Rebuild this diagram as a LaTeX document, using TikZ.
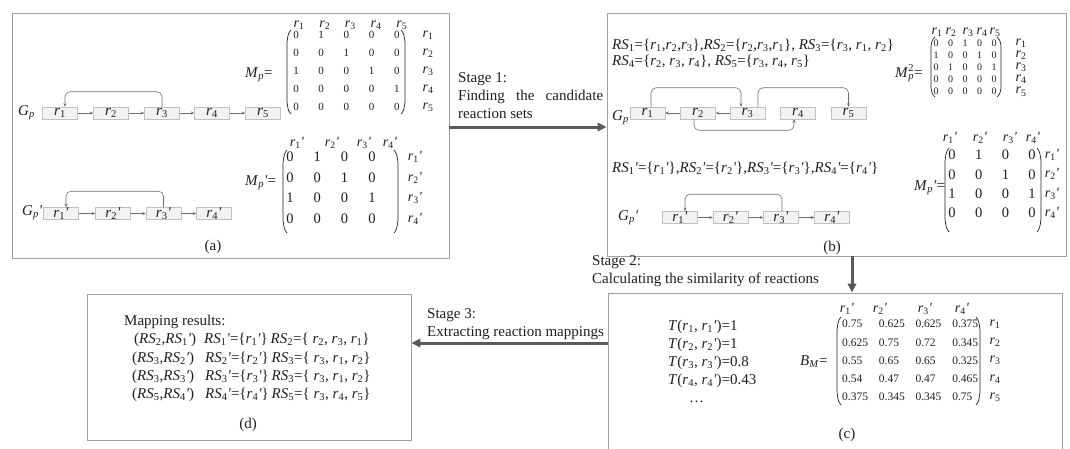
\documentclass[tikz,border=0pt]{standalone}
\usepackage{fontspec}
\setmainfont{Liberation Serif}
\usetikzlibrary{arrows.meta}
\definecolor{panelcol}{HTML}{A0A0A0}
\definecolor{boxfill}{HTML}{F2F2F2}
\definecolor{boxline}{HTML}{C0C0C0}
\definecolor{edgecol}{HTML}{6E6E6E}
\definecolor{stagecol}{HTML}{595959}
\definecolor{inkcol}{HTML}{1E1E1E}
\newcommand{\myq}{\textit{\textquotesingle}}
\newcommand{\myr}[1]{\textit{r}\textsubscript{#1}}
\newcommand{\myrp}[1]{\textit{r}\textsubscript{#1}\myq}
\newcommand{\myRS}[1]{\textit{RS}\textsubscript{#1}}
\newcommand{\myRSp}[1]{\textit{RS}\textsubscript{#1}\myq}
\newcommand{\mylpar}[4]{\draw[paren] (#1+4,#2) .. controls (#1+1.2,#2+#4*0.3) .. (#1,#2+#4) -- (#1,#3-#4) .. controls (#1+1.2,#3-#4*0.3) .. (#1+4,#3);}
\newcommand{\myrpar}[4]{\draw[paren] (#1-4,#2) .. controls (#1-1.2,#2+#4*0.3) .. (#1,#2+#4) -- (#1,#3-#4) .. controls (#1-1.2,#3-#4*0.3) .. (#1-4,#3);}
\tikzset{
  panel/.style={draw=panelcol, line width=0.9pt, inner sep=0pt},
  rbox/.style={draw=boxline, fill=boxfill, line width=0.5pt, minimum width=35pt, minimum height=12pt, inner sep=0pt, font=\fontsize{15}{18}\selectfont, text=inkcol},
  conn/.style={draw=edgecol, line width=0.6pt, -{Stealth[length=3.5pt,width=3pt]}},
  loopconn/.style={conn, rounded corners=5pt},
  stagearrow/.style={draw=stagecol, line width=3pt, -{Triangle[length=9pt,width=8.5pt]}},
  txt/.style={inner sep=0pt, anchor=base west, font=\fontsize{15}{18}\selectfont, text=inkcol},
  lbl/.style={inner sep=0pt, font=\fontsize{15}{18}\selectfont, text=inkcol},
  hdr/.style={inner sep=0pt, font=\fontsize{14}{16}\selectfont, text=inkcol},
  ent/.style={inner sep=0pt, font=\fontsize{11}{13}\selectfont, text=inkcol},
  entmid/.style={inner sep=0pt, font=\fontsize{11.5}{13}\selectfont, text=inkcol},
  entbig/.style={inner sep=0pt, font=\fontsize{14.5}{17}\selectfont, text=inkcol},
  enttiny/.style={inner sep=0pt, font=\fontsize{10}{12}\selectfont, text=inkcol},
  paren/.style={draw=inkcol, line width=0.7pt},
}
\begin{document}
\begin{tikzpicture}[x=1pt,y=-1pt]
\useasboundingbox (0,0) rectangle (1070,448);
\clip (0,0) rectangle (1070,448);

% panels
\node[panel, minimum width=437pt, minimum height=245pt] (pa) at (230.5,135.5) {};
\node[panel, minimum width=459pt, minimum height=243pt] (pb) at (836.5,134.5) {};
\node[panel, minimum width=454pt, minimum height=180pt] (pc) at (835,383) {};
\node[panel, minimum width=324pt, minimum height=146pt] (pd) at (249,367) {};

% ---------- panel (a) ----------
\node[txt] (gpa) at (18,115) {\textit{G}\textsubscript{\textit{p}}};
\foreach \x [count=\i] in {60,111,162,212,263} \node[rbox] (a\i) at (\x,113) {\myr{\i}};
\foreach \i/\j in {1/2,2/3,3/4,4/5} \draw[conn] (a\i) -- (a\j);
\draw[loopconn] (a3.north) -- ++(0,-15) -| ([xshift=5pt]a1.north);

\node[txt] (mpalbl) at (245,77) {\textit{M}\textsubscript{\textit{p}}=};
\foreach \rowv [count=\i] in {{0,1,0,0,0},{0,0,1,0,0},{1,0,0,1,0},{0,0,0,0,1},{0,0,0,0,0}} {
  \foreach \v [count=\j] in \rowv {
    \node[ent] (mpa-\i-\j) at ({296+(\j-1)*25.2},{35+(\i-1)*18}) {\v};
  }
  \node[hdr] (mpa-l\i) at (428,{35+(\i-1)*18}) {\myr{\i}};
}
\foreach \j in {1,...,5} \node[hdr] (mpa-h\j) at ({299+(\j-1)*25.7},25) {\myr{\j}};
\mylpar{287}{30}{114}{12}
\myrpar{405}{30}{114}{12}

\node[txt] (gppa) at (22,215) {\textit{G}\textsubscript{\textit{p}}\myq};
\foreach \x [count=\i] in {61,113,163.5,214} \node[rbox] (ap\i) at (\x,213.5) {\myrp{\i}};
\foreach \i/\j in {1/2,2/3,3/4} \draw[conn] (ap\i) -- (ap\j);
\draw[loopconn] (ap3.north) -- ++(0,-16) -| ([xshift=5pt]ap1.north);

\node[txt] (mppalbl) at (245,185) {\textit{M}\textsubscript{\textit{p}}\myq=};
\foreach \rowv [count=\i] in {{0,1,0,0},{0,0,1,0},{1,0,0,1},{0,0,0,0}} {
  \foreach \v [count=\j] in \rowv {
    \node[entbig] (mppa-\i-\j) at ({290+(\j-1)*27.3},{157+(\i-1)*20.5}) {\v};
  }
  \node[hdr] (mppa-l\i) at (415,{157+(\i-1)*20.5}) {\myrp{\i}};
}
\foreach \x [count=\j] in {297,332,364,390} \node[hdr] (mppa-h\j) at (\x,143) {\myrp{\j}};
\mylpar{283}{150}{233}{13}
\myrpar{398}{150}{233}{13}

\node[lbl] (la) at (213,247) {(a)};

% ---------- panel (b) ----------
\node[txt] (rs1) at (612,49) {\myRS{1}=\{\myr{1},\myr{2},\myr{3}\},\myRS{2}=\{\myr{2},\myr{3},\myr{1}\}, \myRS{3}=\{\myr{3}, \myr{1}, \myr{2}\}};
\node[txt] (rs2) at (612,65) {\myRS{4}=\{\myr{2}, \myr{3}, \myr{4}\}, \myRS{5}=\{\myr{3}, \myr{4}, \myr{5}\}};

\node[txt] (gpb) at (612,120) {\textit{G}\textsubscript{\textit{p}}};
\foreach \x [count=\i] in {647.5,698,747.5,798,848.5} \node[rbox] (b\i) at (\x,113) {\myr{\i}};
\draw[conn] (b2) -- (b1);
\draw[conn] (b3) -- (b2);
\draw[loopconn] ([xshift=3.5pt]b1.north) -- ++(0,-19) -| ([xshift=-6.5pt]b3.north);
\draw[loopconn] ([xshift=10.5pt]b3.north) -- ++(0,-19) -| (b5.north);
\draw[loopconn] ([xshift=-4pt]b2.south) -- ++(0,11) -| ([xshift=-4pt]b4.south);

\node[txt] (mp2lbl) at (895,77) {\textit{M}\rlap{\textsubscript{\textit{p}}}\textsuperscript{2}=};
\foreach \rowv [count=\i] in {{0,0,1,0,0},{1,0,0,1,0},{0,1,0,0,1},{0,0,0,0,0},{0,0,0,0,0}} {
  \foreach \v [count=\j] in \rowv {
    \node[enttiny] (mp2-\i-\j) at ({936+(\j-1)*14.5},{43.3+(\i-1)*12.1}) {\v};
  }
  \node[hdr] (mp2-l\i) at (1021,{43.3+(\i-1)*12.1}) {\myr{\i}};
}
\foreach \x [count=\j] in {937,951,968,982,995} \node[hdr] (mp2-h\j) at (\x,32) {\myr{\j}};
\mylpar{931}{37}{97}{9}
\myrpar{1001}{37}{97}{9}

\node[txt] (rsp) at (612,172) {\myRSp{1}=\{\myrp{1}\},\myRSp{2}=\{\myrp{2}\},\myRSp{3}=\{\myrp{3}\},\myRSp{4}=\{\myrp{4}\}};

\node[txt] (gppb) at (618,220) {\textit{G}\textsubscript{\textit{p}}\myq};
\foreach \x [count=\i] in {680,730.5,781,832} \node[rbox] (bp\i) at (\x,217.5) {\myrp{\i}};
\foreach \i/\j in {1/2,2/3,3/4} \draw[conn] (bp\i) -- (bp\j);
\draw[loopconn] ([xshift=1pt]bp3.north) -- ++(0,-17) -| ([xshift=5pt]bp1.north);

\node[txt] (mppblbl) at (914,190) {\textit{M}\textsubscript{\textit{p}}\myq=};
\foreach \rowv [count=\i] in {{0,1,0,0},{0,0,1,0},{1,0,0,1},{0,0,0,0}} {
  \foreach \v [count=\j] in \rowv {
    \node[entbig] (mppb-\i-\j) at ({952+(\j-1)*26.7},{155+(\i-1)*19.3}) {\v};
  }
  \node[hdr] (mppb-l\i) at (1052,{155+(\i-1)*19.3}) {\myrp{\i}};
}
\foreach \x [count=\j] in {950,980,1010,1033} \node[hdr] (mppb-h\j) at (\x,138) {\myrp{\j}};
\mylpar{945}{148}{232}{13}
\myrpar{1041}{148}{232}{13}

\node[lbl] (lb) at (832,248) {(b)};

% ---------- panel (c) ----------
\node[txt] (t1) at (668,330) {\textit{T}(\myr{1}, \myrp{1})=1};
\node[txt] (t2) at (668,348) {\textit{T}(\myr{2}, \myrp{2})=1};
\node[txt] (t3) at (668,366) {\textit{T}(\myr{3}, \myrp{3})=0.8};
\node[txt] (t4) at (668,384) {\textit{T}(\myr{4}, \myrp{4})=0.43};
\node[txt] (tdots) at (689,402) {\textellipsis};

\node[txt] (bmlbl) at (800,365) {\textit{B}\textsubscript{\textit{M}}=};
\foreach \rowv [count=\i] in {{0.75,0.625,0.625,0.375},{0.625,0.75,0.72,0.345},{0.55,0.65,0.65,0.325},{0.54,0.47,0.47,0.465},{0.375,0.345,0.345,0.75}} {
  \foreach \v [count=\j] in \rowv {
    \node[entmid, anchor=west] (bm-\i-\j) at ({842+(\j-1)*36.7},{324+(\i-1)*18.3}) {\v};
  }
  \node[hdr] (bm-l\i) at (995,{324+(\i-1)*18.3}) {\myr{\i}};
}
\foreach \x [count=\j] in {847,880,925,962} \node[hdr] (bm-h\j) at (\x,309) {\myrp{\j}};
\mylpar{837}{317}{405}{13}
\myrpar{980}{317}{405}{13}

\node[lbl] (lc) at (847,435) {(c)};

% ---------- panel (d) ----------
\node[txt] (dtitle) at (124,325) {Mapping results:};
\node[txt] (d1a) at (134,343) {(\myRS{2},\myRSp{1})};
\node[txt] (d2a) at (132,362) {(\myRS{3},\myRSp{2})};
\node[txt] (d3a) at (132,380) {(\myRS{3},\myRSp{3})};
\node[txt] (d4a) at (132,398) {(\myRS{5},\myRSp{4})};
\node[txt] (d1b) at (204,343) {\myRSp{1}=\{\myrp{1}\}};
\node[txt] (d2b) at (205,362) {\myRSp{2}=\{\myrp{2}\}};
\node[txt] (d3b) at (205,380) {\myRSp{3}=\{\myrp{3}\}};
\node[txt] (d4b) at (205,398) {\myRSp{4}=\{\myrp{4}\}};
\node[txt] (d1c) at (270.5,343) {\myRS{2}=\{ \myr{2}, \myr{3}, \myr{1}\}};
\node[txt] (d2c) at (271.5,362) {\myRS{3}=\{ \myr{3}, \myr{1}, \myr{2}\}};
\node[txt] (d3c) at (271.5,380) {\myRS{3}=\{ \myr{3}, \myr{1}, \myr{2}\}};
\node[txt] (d4c) at (271.5,398) {\myRS{5}=\{ \myr{3}, \myr{4}, \myr{5}\}};
\node[lbl] (ld) at (248,425) {(d)};

% ---------- stages ----------
\coordinate (s1y) at (0,127);
\coordinate (s2x) at (852,0);
\coordinate (s3y) at (0,343);
\draw[stagearrow] (pa.east |- s1y) -- (pb.west |- s1y);
\draw[stagearrow] (pb.south -| s2x) -- (pc.north -| s2x);
\draw[stagearrow] (pc.west |- s3y) -- (pd.east |- s3y);

\node[txt] (s1a) at (458,82) {Stage 1:};
\node[txt] (s1b) at (458,100) {\makebox[145pt][s]{Finding the candidate}};
\node[txt] (s1c) at (458,118) {reaction sets};
\node[txt] (s2a) at (592,265) {Stage 2:};
\node[txt] (s2b) at (592,283) {Calculating the similarity of reactions};
\node[txt] (s3a) at (427,318) {Stage 3:};
\node[txt] (s3b) at (427,336) {Extracting reaction mappings};
\end{tikzpicture}
\end{document}
